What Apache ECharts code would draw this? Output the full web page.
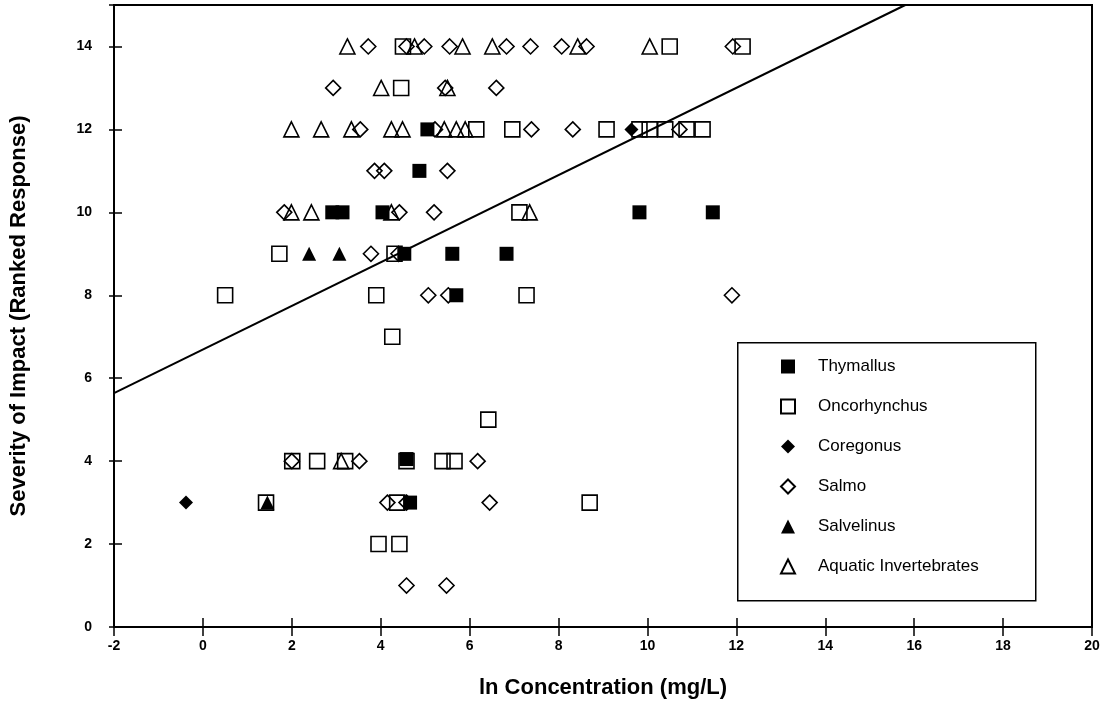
<!DOCTYPE html>
<html>
<head>
<meta charset="utf-8">
<script src="https://cdn.jsdelivr.net/npm/echarts@6/dist/echarts.min.js"></script>
<style>
  html, body { margin: 0; padding: 0; background: #fff; }
  #main { width: 1115px; height: 710px; }
</style>
</head>
<body>
<div id="main"></div>
<script>
// values: [ln concentration, ranked response]
var thymallus = [
  [5.05, 12], [4.87, 11],
  [2.91, 10], [3.14, 10], [4.04, 10], [9.82, 10], [11.47, 10],
  [4.53, 9], [5.61, 9], [6.83, 9], [5.7, 8],
  [4.58, 4.05], [4.66, 3]
];
var oncorhynchus = [
  [4.5, 14], [10.5, 14], [12.14, 14], [4.46, 13],
  [6.15, 12], [6.96, 12], [9.08, 12], [9.82, 12], [10.05, 12], [10.4, 12], [10.88, 12], [11.24, 12],
  [7.12, 10], [1.72, 9], [4.31, 9],
  [0.5, 8], [3.9, 8], [7.28, 8], [4.26, 7], [6.42, 5],
  [2.01, 4], [2.57, 4], [3.2, 4], [4.58, 4], [5.39, 4], [5.66, 4],
  [1.42, 3], [4.37, 3], [8.7, 3],
  [3.95, 2], [4.42, 2]
];
var coregonus = [[9.64, 12], [-0.38, 3]];
var salmo = [
  [3.72, 14], [4.58, 14], [4.98, 14], [5.55, 14], [6.83, 14], [7.37, 14], [8.07, 14], [8.63, 14], [11.92, 14],
  [2.93, 13], [5.45, 13], [6.6, 13],
  [3.54, 12], [5.22, 12], [7.39, 12], [8.32, 12], [10.72, 12],
  [3.86, 11], [4.08, 11], [5.5, 11],
  [1.83, 10], [4.42, 10], [5.2, 10],
  [3.78, 9], [4.4, 9],
  [5.07, 8], [5.52, 8], [11.9, 8],
  [2.0, 4], [3.52, 4], [6.18, 4],
  [4.15, 3], [4.58, 3], [6.45, 3],
  [4.58, 1], [5.48, 1]
];
var salvelinus = [[2.39, 9], [3.07, 9], [1.45, 3]];
var invertebrates = [
  [3.25, 14], [4.76, 14], [5.84, 14], [6.51, 14], [8.43, 14], [10.05, 14],
  [4.01, 13], [5.5, 13],
  [1.99, 12], [2.66, 12], [3.34, 12], [4.24, 12], [4.49, 12], [5.43, 12], [5.7, 12], [5.9, 12],
  [1.99, 10], [2.44, 10], [4.24, 10], [7.35, 10],
  [3.11, 4]
];
// fitted line end points
var fitX = [-2, 15.8];
var fitY = [5.64, 15];

var font = '"Liberation Sans", Arial, sans-serif';
var chart = echarts.init(document.getElementById('main'));

function hollow(name, symbol, data, size) {
  return {
    name: name, type: 'scatter', symbol: symbol, symbolSize: size, data: data,
    itemStyle: { color: 'rgba(255,255,255,0)', borderColor: '#000', borderWidth: 1.6, opacity: 1 }
  };
}
function filled(name, symbol, data, size) {
  return {
    name: name, type: 'scatter', symbol: symbol, symbolSize: size, data: data,
    itemStyle: { color: '#000', opacity: 1 }
  };
}

var xBase = {
  type: 'value', min: -2, max: 20, interval: 2, position: 'bottom',
  axisLine: { onZero: false, lineStyle: { color: '#000', width: 1.5 } },
  splitLine: { show: false }
};
var yBase = {
  type: 'value', min: 0, max: 15, interval: 2, position: 'left',
  axisLine: { onZero: false, lineStyle: { color: '#000', width: 1.5 } },
  splitLine: { show: false }
};

var option = {
  backgroundColor: '#fff',
  animation: false,
  grid: { left: 114, right: 23, top: 5, bottom: 83, show: true, borderColor: '#000', borderWidth: 2 },
  xAxis: [
    Object.assign({}, xBase, {
      axisTick: { inside: true, length: 9, lineStyle: { color: '#000', width: 1.5 } },
      axisLabel: { color: '#000', fontFamily: font, fontWeight: 'bold', fontSize: 14, margin: 12 },
      name: 'ln Concentration (mg/L)', nameLocation: 'middle', nameGap: 50,
      nameTextStyle: { color: '#000', fontFamily: font, fontWeight: 'bold', fontSize: 22 }
    }),
    Object.assign({}, xBase, {
      axisTick: { inside: false, length: 9, lineStyle: { color: '#000', width: 1.5 } },
      axisLabel: { show: false }
    })
  ],
  yAxis: [
    Object.assign({}, yBase, {
      axisTick: { inside: true, length: 8, lineStyle: { color: '#000', width: 1.5 } },
      axisLabel: { color: '#000', fontFamily: font, fontWeight: 'bold', fontSize: 14, margin: 22, showMaxLabel: false },
      name: 'Severity of Impact (Ranked Response)', nameLocation: 'middle', nameGap: 84,
      nameTextStyle: { color: '#000', fontFamily: font, fontWeight: 'bold', fontSize: 22 }
    }),
    Object.assign({}, yBase, {
      axisTick: { inside: false, length: 5, lineStyle: { color: '#000', width: 1.5 } },
      axisLabel: { show: false }
    })
  ],
  graphic: [{
    type: 'rect', left: 737, top: 342, z: 0,
    shape: { width: 298, height: 258 },
    style: { fill: '#fff', stroke: '#000', lineWidth: 1.5 }
  }],
  legend: {
    orient: 'vertical', left: 775, top: 353, z: 5,
    itemWidth: 14, itemHeight: 14, itemGap: 23,
    textStyle: { color: '#000', fontFamily: font, fontSize: 17, lineHeight: 16, padding: [0, 0, 0, 18] },
    data: ['Thymallus', 'Oncorhynchus', 'Coregonus', 'Salmo', 'Salvelinus', 'Aquatic Invertebrates']
  },
  series: [
    hollow('Oncorhynchus', 'rect', oncorhynchus, 15),
    hollow('Salmo', 'diamond', salmo, 15),
    hollow('Aquatic Invertebrates', 'triangle', invertebrates, 15),
    filled('Thymallus', 'rect', thymallus, 14),
    filled('Coregonus', 'diamond', coregonus, 14),
    filled('Salvelinus', 'triangle', salvelinus, 14),
    {
      type: 'line', silent: true, symbol: 'none',
      data: fitX.map(function (x, i) { return [x, fitY[i]]; }),
      lineStyle: { color: '#000', width: 2 }
    }
  ]
};
chart.setOption(option);
</script>
</body>
</html>
